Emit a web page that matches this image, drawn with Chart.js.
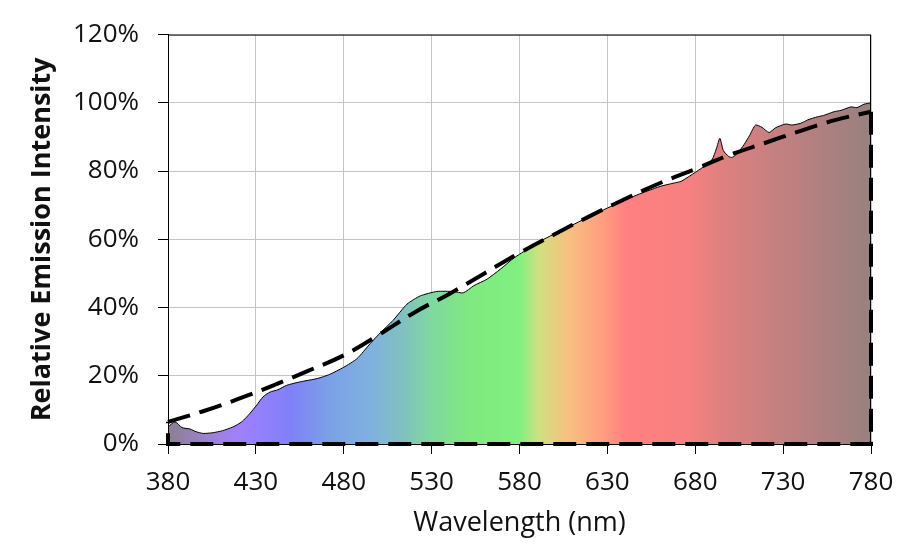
<!DOCTYPE html>
<html>
<head>
  <meta charset="utf-8">
  <title>Relative Emission Intensity</title>
  <script src="https://cdn.jsdelivr.net/npm/chart.js@4"></script>
  <style>
    html, body { margin: 0; padding: 0; background: #fff; }
    #wrap { width: 918px; height: 551px; }
  </style>
</head>
<body>
  <div id="wrap"><canvas id="chart" width="918" height="551"></canvas></div>
  <script>
    // measured spectrum (nm, %)
    const specNm = [380, 384, 388, 392.5, 396, 400, 405.5, 411, 417, 422, 426.5, 430.5, 434, 438, 442.5,
      447.5, 455, 465, 472, 480, 487.5, 495, 501, 508, 516, 523.5, 533, 542.5, 548, 554, 561.5, 569, 577,
      580, 592, 607, 626, 645, 660, 668, 672, 680, 684, 689.5, 692, 694, 696, 699, 701, 704, 707.7, 711,
      714.3, 718, 722, 725.7, 731.4, 735, 740, 744, 749.5, 753, 759, 763, 768.5, 772, 776, 780];
    const specPct = [5.0, 6.5, 4.8, 4.4, 3.6, 3.1, 3.3, 3.9, 5.0, 6.5, 8.9, 11.4, 13.8, 15.2, 15.9,
      17.2, 18.2, 19.2, 20.4, 22.5, 25.0, 29.4, 32.7, 36.2, 41.0, 43.4, 44.7, 44.7, 44.3, 46.4, 48.3, 51.2, 54.6,
      55.6, 59.5, 63.4, 68.2, 72.6, 75.5, 76.5, 77.0, 79.6, 81.0, 83.3, 86.5, 89.6, 86.0, 84.3, 84.0, 85.2, 87.7, 90.5,
      93.5, 92.8, 91.3, 92.7, 93.8, 93.5, 94.0, 95.0, 95.9, 96.3, 97.4, 97.8, 98.8, 98.6, 99.6, 100.0];

    // reference curve (dashed)
    const refNm = [380, 400, 420, 440, 460, 480, 500, 520, 540, 560, 580, 600, 620, 640, 660, 680, 700, 720, 740, 760, 780];
    const refPct = [6.5, 9.6, 13.2, 17.2, 21.5, 26.0, 32.0, 38.5, 44.0, 50.0, 56.0, 61.5, 66.8, 71.8, 76.5, 80.6, 84.8, 88.3, 91.8, 95.0, 97.4];

    // closing edges of the reference outline
    const edgeNm = [780, 780, 380, 380];
    const edgePct = [97.4, 0, 0, 6.5];

    // fill colour stops (nm -> colour)
    const stopNm = [380, 400, 420, 450, 471, 494, 513, 530, 551, 580, 591, 608, 626, 641, 675, 694, 732, 780];
    const stopCol = ['#8a8090', '#9a82c8', '#a080ff', '#8080f8', '#7aa0e8', '#80b0e0', '#80c0c0', '#80d8a0',
      '#80e880', '#80f080', '#d0e080', '#f8c080', '#ffa080', '#ff8080', '#f88080', '#e08080', '#c08080', '#988080'];

    const xTicks = [380, 430, 480, 530, 580, 630, 680, 730, 780];
    const yTicks = [0, 20, 40, 60, 80, 100, 120];

    const toPts = (xs, ys) => xs.map((x, i) => ({ x, y: ys[i] }));

    function spectrumFill(ctx) {
      const chart = ctx.chart;
      const area = chart.chartArea;
      if (!area) return 'rgba(0,0,0,0)';
      const xs = chart.scales.x;
      const g = chart.ctx.createLinearGradient(area.left, 0, area.right, 0);
      const w = area.right - area.left;
      stopNm.forEach((nm, i) => {
        g.addColorStop(Math.min(1, Math.max(0, (xs.getPixelForValue(nm) - area.left) / w)), stopCol[i]);
      });
      return g;
    }

    const frame = {
      id: 'frame',
      afterDatasetsDraw(chart) {
        const { ctx, chartArea: a } = chart;
        ctx.save();
        ctx.strokeStyle = '#000';
        ctx.lineWidth = 1;
        ctx.strokeRect(a.left + 0.5, a.top + 0.5, a.right - a.left - 1, a.bottom - a.top);
        ctx.restore();
      }
    };

    const font = 'Open Sans';
    new Chart(document.getElementById('chart'), {
      type: 'line',
      data: {
        datasets: [
          {
            data: toPts(specNm, specPct),
            borderColor: '#000',
            borderWidth: 1,
            pointRadius: 0,
            tension: 0.2,
            fill: 'origin',
            backgroundColor: spectrumFill,
            order: 2
          },
          {
            data: toPts(refNm, refPct),
            borderColor: '#000',
            borderWidth: 4,
            borderDash: [23, 10],
            pointRadius: 0,
            tension: 0.4,
            fill: false,
            clip: false,
            order: 1
          },
          {
            data: toPts(edgeNm, edgePct),
            borderColor: '#000',
            borderWidth: 4,
            borderDash: [23, 10],
            pointRadius: 0,
            tension: 0,
            fill: false,
            clip: false,
            order: 1
          }
        ]
      },
      options: {
        responsive: false,
        animation: false,
        layout: { padding: { top: 32, right: 47, left: 0, bottom: 0 } },
        plugins: { legend: { display: false }, tooltip: { enabled: false } },
        scales: {
          x: {
            type: 'linear',
            min: 380, max: 780,
            afterBuildTicks: s => { s.ticks = xTicks.map(v => ({ value: v })); },
            afterFit: s => { s.height = 107; },
            grid: { color: '#c4c4c4', lineWidth: 1, tickLength: 10, tickColor: '#000' },
            border: { color: '#000', width: 1 },
            ticks: { color: '#111', font: { family: font, size: 26 }, padding: 13, maxRotation: 0 },
            title: { display: true, text: 'Wavelength (nm)', color: '#111', font: { family: font, size: 27 }, padding: { top: 0, bottom: 11 } }
          },
          y: {
            min: 0, max: 120,
            afterBuildTicks: s => { s.ticks = yTicks.map(v => ({ value: v })); },
            afterFit: s => { s.width = 168; },
            grid: { color: '#c4c4c4', lineWidth: 1, tickLength: 10, tickColor: '#000' },
            border: { color: '#000', width: 1 },
            ticks: { color: '#111', font: { family: font, size: 26 }, padding: 19, callback: v => v + '%' },
            title: { display: true, text: 'Relative Emission Intensity', color: '#111', font: { family: font, size: 27, weight: 'bold' }, padding: { top: 26, bottom: 0 } }
          }
        }
      },
      plugins: [frame]
    });
  </script>
</body>
</html>
